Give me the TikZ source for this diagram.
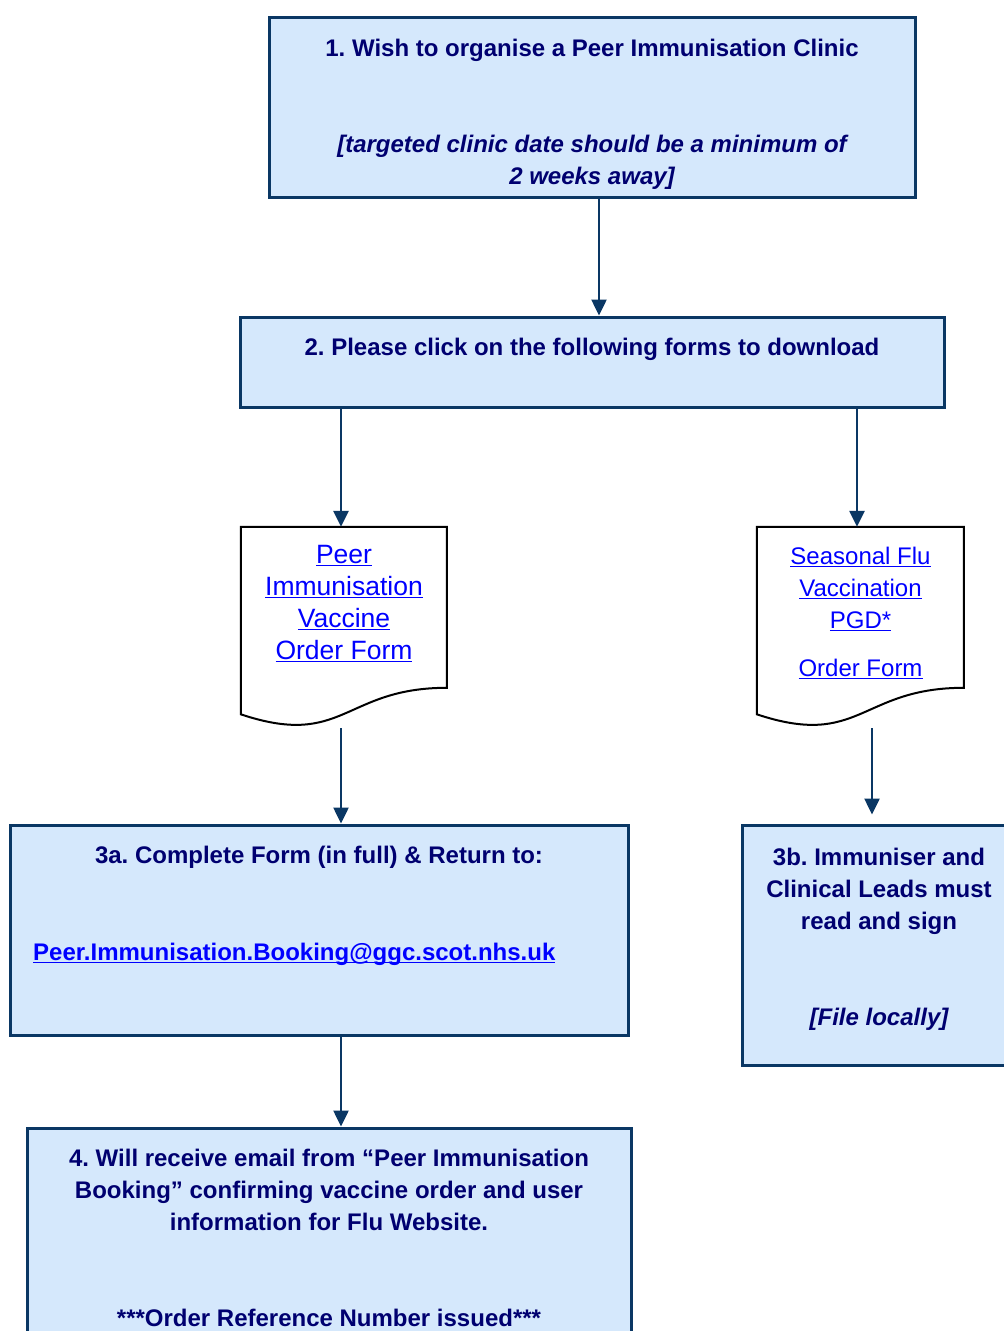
\documentclass[tikz,border=0pt]{standalone}
\usepackage{fontspec}
\setmainfont{Liberation Sans}
\usetikzlibrary{arrows.meta}
\frenchspacing
\definecolor{boxfill}{HTML}{D5E8FC}
\definecolor{boxline}{HTML}{0A3764}
\definecolor{navytxt}{HTML}{000070}
\definecolor{linkblue}{HTML}{0000FF}
\newcommand\lnk[1]{\leavevmode\setbox0\hbox{#1}\rlap{\rule[-3.2pt]{\wd0}{1.8pt}}\box0}
\begin{document}
\begin{tikzpicture}[x=1pt,y=-1pt,
  stepbox/.style={draw=boxline,line width=3pt,fill=boxfill,minimum width=#1,inner sep=0pt},
  docbox/.style={minimum width=206pt,minimum height=200pt,inner sep=0pt},
  docline/.style={draw=black,line width=2pt,fill=white,line join=miter},
  boxtxt/.style={anchor=north,inner sep=0pt,align=center,text=navytxt,font=\frenchspacing\fontsize{24}{32}\selectfont\bfseries},
  linktxt/.style={anchor=north,inner sep=0pt,align=center,text=linkblue},
  arr/.style={draw=boxline,line width=2.5pt,-{Triangle[width=15pt,length=16pt]}}]
\useasboundingbox (0,0) rectangle (1004,1331);
\clip (0,0) rectangle (1004,1331);
\fill[white] (0,0) rectangle (1004,1331);
% boxes
\node[stepbox=646pt,minimum height=180pt] (b1) at (592,107) {};
\node[stepbox=704pt,minimum height=90pt] (b2) at (592,362) {};
\node[stepbox=618pt,minimum height=210pt] (b3a) at (319,930) {};
\node[stepbox=274pt,minimum height=240pt] (b3b) at (879,945) {};
\node[stepbox=604pt,minimum height=232pt] (b4) at (329,1244) {};
% documents
\node[docbox] (d1) at (344,627) {};
\node[docbox,minimum width=207pt] (d2) at (860.5,627) {};
\draw[docline,shift={(d1.north west)}] (0,0) -- (206,0) -- (206,161)
  .. controls (103,161) and (103,222) .. (0,187.5) -- cycle;
\draw[docline,shift={(d2.north west)}] (0,0) -- (207,0) -- (207,161)
  .. controls (103.5,161) and (103.5,222) .. (0,187.5) -- cycle;
% texts
\node[boxtxt] (t1) at (592,33.6) {\strut 1. Wish to organise a Peer Immunisation Clinic\\[64pt]
  \itshape [targeted clinic date should be a minimum of\\ \itshape 2 weeks away]};
\node[boxtxt] (t2) at (592,332.6) {\strut 2. Please click on the following forms to download};
\node[linktxt,font=\fontsize{26.5}{32}\selectfont] (t3) at (344,540.6)
  {\strut\lnk{Peer}\\ \lnk{Immunisation}\\ \lnk{Vaccine}\\ \lnk{Order Form}};
\node[linktxt,font=\fontsize{24}{32}\selectfont] (t4) at (860.5,541.6)
  {\strut\lnk{Seasonal Flu}\\ \lnk{Vaccination}\\ \lnk{PGD*}\\[16pt] \lnk{Order Form}};
\node[boxtxt] (t5) at (319,840.6) {\strut 3a. Complete Form (in full) \& Return to:};
\node[boxtxt,anchor=north west,text=linkblue] (t6) at (33,937.6)
  {\strut\lnk{Peer.Immunisation.Booking@ggc.scot.nhs.uk}};
\node[boxtxt] (t7) at (879,842.6) {\strut 3b. Immuniser and\\ Clinical Leads must\\ read and sign\\[64pt]
  \itshape [File locally]};
\node[boxtxt] (t8) at (329,1143.6) {\strut 4. Will receive email from “Peer Immunisation\\
  Booking” confirming vaccine order and user\\ information for Flu Website.\\[64pt]
  ***Order Reference Number issued***};
% connectors
\draw[arr] ([xshift=7pt]b1.south) -- ([xshift=7pt]b2.north);
\draw[arr] ([xshift=-3pt]d1.north |- b2.south) -- ([xshift=-3pt]d1.north);
\draw[arr] ([xshift=-3.5pt]d2.north |- b2.south) -- ([xshift=-3.5pt]d2.north);
\draw[arr] ([xshift=-3pt,yshift=-1pt]d1.south) -- ([xshift=-3pt]d1.south |- b3a.north);
\draw[arr] ([xshift=-7pt]b3b.north |- d2.south) ++(0,1) -- ([xshift=-7pt,yshift=9pt]b3b.north);
\draw[arr] ([xshift=22pt]b3a.south) -- ([xshift=22pt]b3a.south |- b4.north);
\end{tikzpicture}
\end{document}
